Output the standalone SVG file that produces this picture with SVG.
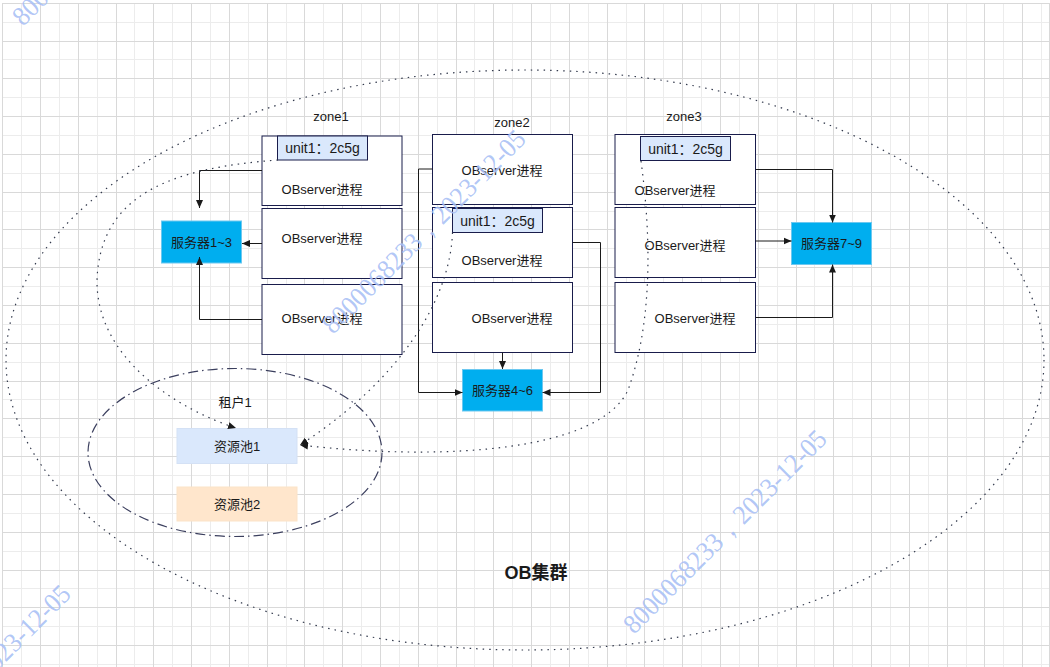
<svg xmlns="http://www.w3.org/2000/svg" width="1050" height="667" viewBox="0 0 1050 667">
<style>
.gl{stroke:#ececec;stroke-width:1;fill:none}
.gb{stroke:#d9d9d9;stroke-width:1;fill:none}
.box{fill:#ffffff;stroke:#191c4b;stroke-width:1}
.unit{fill:#dae8fc;stroke:#191c4b;stroke-width:1}
.srv{fill:#00aeef;stroke:#6cc8f0;stroke-width:1}
.t{font-family:"Liberation Sans","Noto Sans CJK SC",sans-serif;font-size:13px;fill:#1a1a1a;text-anchor:middle}
.tu{font-size:14px}
.conn{fill:none;stroke:#1a1a1a;stroke-width:1}
.dot{fill:none;stroke:#333a4d;stroke-width:1.2;stroke-dasharray:1.5 5}
.wm{font-family:"Liberation Serif","DejaVu Serif",serif;font-size:27px;fill:#a9bff5;fill-opacity:0.9}
</style>
<defs>
<marker id="arr" viewBox="0 0 8 8" refX="8" refY="4" markerWidth="8" markerHeight="8" markerUnits="userSpaceOnUse" orient="auto">
<path d="M0,0.5 L8,4 L0,7.5 z" fill="#1a1a1a"/>
</marker>
</defs>
<rect x="0" y="0" width="1050" height="667" fill="#ffffff"/>
<g id="grid">
<path class="gl" d="M21.5 3V667M59.5 3V667M97.5 3V667M134.5 3V667M172.5 3V667M210.5 3V667M248.5 3V667M286.5 3V667M323.5 3V667M361.5 3V667M399.5 3V667M437.5 3V667M474.5 3V667M512.5 3V667M550.5 3V667M588.5 3V667M626.5 3V667M663.5 3V667M701.5 3V667M739.5 3V667M777.5 3V667M814.5 3V667M852.5 3V667M890.5 3V667M928.5 3V667M966.5 3V667M1003.5 3V667M1041.5 3V667
M2 22.5H1050M2 59.5H1050M2 97.5H1050M2 135.5H1050M2 173.5H1050M2 211.5H1050M2 248.5H1050M2 286.5H1050M2 324.5H1050M2 362.5H1050M2 399.5H1050M2 437.5H1050M2 475.5H1050M2 513.5H1050M2 551.5H1050M2 588.5H1050M2 626.5H1050M2 664.5H1050"/>
<path class="gb" d="M2.5 3V667M40.5 3V667M78.5 3V667M116.5 3V667M153.5 3V667M191.5 3V667M229.5 3V667M267.5 3V667M304.5 3V667M342.5 3V667M380.5 3V667M418.5 3V667M456.5 3V667M493.5 3V667M531.5 3V667M569.5 3V667M607.5 3V667M644.5 3V667M682.5 3V667M720.5 3V667M758.5 3V667M796.5 3V667M833.5 3V667M871.5 3V667M909.5 3V667M947.5 3V667M984.5 3V667M1022.5 3V667M1049.5 3V667
M2 3.5H1050M2 41.5H1050M2 78.5H1050M2 116.5H1050M2 154.5H1050M2 192.5H1050M2 229.5H1050M2 267.5H1050M2 305.5H1050M2 343.5H1050M2 381.5H1050M2 418.5H1050M2 456.5H1050M2 494.5H1050M2 532.5H1050M2 570.5H1050M2 607.5H1050M2 645.5H1050"/>
</g>
<g id="cluster">
<ellipse class="dot" cx="525" cy="360" rx="519" ry="290"/>
<text class="t" x="536" y="578.5" style="font-size:18px;font-weight:bold">OB集群</text>
</g>
<g id="tenant1">
<ellipse cx="235" cy="452.5" rx="147" ry="84" fill="none" stroke="#3b3f5e" stroke-width="1.2" stroke-dasharray="10 4 1.5 4"/>
<text class="t" x="235" y="407">租户1</text>
</g>
<g id="pool1">
<rect x="177" y="428.5" width="120" height="35" fill="#dae8fc" stroke="#d4e1f5"/>
<text class="t" x="237" y="450.5">资源池1</text>
</g>
<g id="pool2">
<rect x="177" y="487" width="120" height="34" fill="#ffe6cc" stroke="#fbe3c8"/>
<text class="t" x="237" y="508.5">资源池2</text>
</g>
<g id="zone1">
<text class="t" x="331" y="121">zone1</text>
</g>
<g id="zone2">
<text class="t" x="512" y="127">zone2</text>
</g>
<g id="zone3">
<text class="t" x="684" y="121">zone3</text>
</g>
<g id="z1-obs1">
<rect class="box" x="262" y="136" width="140" height="69.5"/>
<text class="t" x="322" y="194">OBserver进程</text>
</g>
<g id="z1-unit1">
<rect class="unit" x="277.5" y="136" width="90" height="24"/>
<text class="t tu" x="322.5" y="153">unit1：2c5g</text>
</g>
<g id="z1-obs2">
<rect class="box" x="262" y="208.5" width="140" height="70"/>
<text class="t" x="322" y="243">OBserver进程</text>
</g>
<g id="z1-obs3">
<rect class="box" x="262" y="284.5" width="140" height="70"/>
<text class="t" x="322" y="323">OBserver进程</text>
</g>
<g id="srv1-3">
<rect class="srv" x="161.5" y="221" width="80" height="42"/>
<text class="t" x="201.5" y="246.5">服务器1~3</text>
</g>
<g id="z2-obs1">
<rect class="box" x="432.5" y="134.5" width="140" height="70"/>
<text class="t" x="502" y="174.5">OBserver进程</text>
</g>
<g id="z2-obs2">
<rect class="box" x="432.5" y="207.5" width="140" height="70"/>
<text class="t" x="502" y="264.5">OBserver进程</text>
</g>
<g id="z2-unit1">
<rect class="unit" x="452.5" y="208.5" width="90" height="24"/>
<text class="t tu" x="497.5" y="225.5">unit1：2c5g</text>
</g>
<g id="z2-obs3">
<rect class="box" x="432.5" y="282.5" width="140" height="70"/>
<text class="t" x="512" y="323">OBserver进程</text>
</g>
<g id="srv4-6">
<rect class="srv" x="462.5" y="369.5" width="80" height="41.5"/>
<text class="t" x="502.5" y="394.5">服务器4~6</text>
</g>
<g id="z3-obs1">
<rect class="box" x="615" y="134.5" width="140.5" height="70"/>
<text class="t" x="675" y="194.5">OBserver进程</text>
</g>
<g id="z3-unit1">
<rect class="unit" x="640.5" y="136.5" width="90" height="24"/>
<text class="t tu" x="685.5" y="153.5">unit1：2c5g</text>
</g>
<g id="z3-obs2">
<rect class="box" x="615" y="207.5" width="140.5" height="70"/>
<text class="t" x="685" y="249.5">OBserver进程</text>
</g>
<g id="z3-obs3">
<rect class="box" x="615" y="282.5" width="140.5" height="70"/>
<text class="t" x="695" y="323">OBserver进程</text>
</g>
<g id="srv7-9">
<rect class="srv" x="791.5" y="222.5" width="80" height="42"/>
<text class="t" x="831.5" y="247.5">服务器7~9</text>
</g>
<g id="connectors">
<path class="conn" marker-end="url(#arr)" d="M262 170.5H199.5V208"/>
<path class="conn" marker-end="url(#arr)" d="M262 243.5H242"/>
<path class="conn" marker-end="url(#arr)" d="M262 319.5H199.5V257"/>
<path class="conn" marker-end="url(#arr)" d="M432.5 169H418.5V392.5H462.5"/>
<path class="conn" marker-end="url(#arr)" d="M572.5 242.5H600.5V392.5H542.5"/>
<path class="conn" marker-end="url(#arr)" d="M502.5 352.5V369"/>
<path class="conn" marker-end="url(#arr)" d="M755.5 169.5H832.5V222.5"/>
<path class="conn" marker-end="url(#arr)" d="M755.5 241H791.5"/>
<path class="conn" marker-end="url(#arr)" d="M755.5 317.5H832.5V264.5"/>
<path class="dot" marker-end="url(#arr)" d="M278 160C170 168 100 195 97 280C96 360 180 410 236 428"/>
<path class="dot" marker-end="url(#arr)" d="M452.5 232.5C450 300 400 380 300 445"/>
<path class="dot" marker-end="url(#arr)" d="M641 161C653 250 650 330 628 390C600 450 450 462 300 445"/>
</g>
<g id="watermarks">
<text class="wm" transform="translate(23,27) rotate(-45)" textLength="275" lengthAdjust="spacingAndGlyphs">8000068233，2023-12-05</text>
<text class="wm" transform="translate(333,335) rotate(-45)" textLength="275" lengthAdjust="spacingAndGlyphs">8000068233，2023-12-05</text>
<text class="wm" transform="translate(634,635) rotate(-45)" textLength="275" lengthAdjust="spacingAndGlyphs">8000068233，2023-12-05</text>
<text class="wm" transform="translate(-122,790) rotate(-45)" textLength="275" lengthAdjust="spacingAndGlyphs">8000068233，2023-12-05</text>
</g>
</svg>
